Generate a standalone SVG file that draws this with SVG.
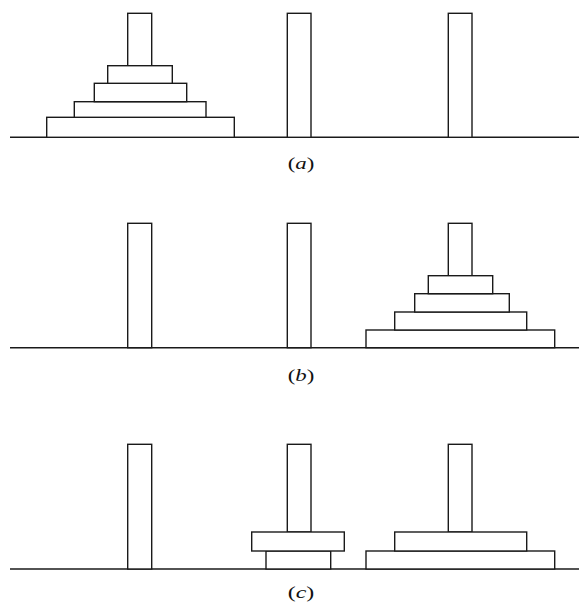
<svg xmlns="http://www.w3.org/2000/svg" width="579" height="602" viewBox="0 0 579 602">
<style>
  rect, line { fill: #fff; stroke: #1a1a1a; stroke-width: 1.4; }
  .lbl { font-family: "Liberation Serif", "Times New Roman", serif; font-size: 16px; fill: #111; }
  .it { font-style: italic; }
</style>
<rect x="0" y="0" width="579" height="602" style="stroke:none;fill:#fff"/>
<g id="panel-a">
  <line x1="10" y1="137.3" x2="579" y2="137.3"/>
  <g id="a-peg1"><rect x="127.7" y="13.3" width="24" height="52.4"/></g>
  <g id="a-peg2"><rect x="287.3" y="13.3" width="23.7" height="124"/></g>
  <g id="a-peg3"><rect x="448.3" y="13.3" width="23.7" height="124"/></g>
  <g id="a-disk4"><rect x="46.7" y="117.3" width="187.6" height="20"/></g>
  <g id="a-disk3"><rect x="74.3" y="101.7" width="131.7" height="15.6"/></g>
  <g id="a-disk2"><rect x="94.3" y="83.3" width="92.4" height="18.4"/></g>
  <g id="a-disk1"><rect x="107.7" y="65.7" width="64.6" height="17.6"/></g>
  <text class="lbl" x="287.7" y="168.5" textLength="26.6" lengthAdjust="spacingAndGlyphs">(<tspan class="it">a</tspan>)</text>
</g>
<g id="panel-b">
  <line x1="10" y1="347.7" x2="579" y2="347.7"/>
  <g id="b-peg1"><rect x="127.7" y="223.3" width="24" height="124.4"/></g>
  <g id="b-peg2"><rect x="287.3" y="223.3" width="23.7" height="124.4"/></g>
  <g id="b-peg3"><rect x="448.3" y="223.3" width="23.7" height="52.4"/></g>
  <g id="b-disk4"><rect x="366" y="330" width="188.7" height="17.7"/></g>
  <g id="b-disk3"><rect x="394.7" y="312" width="132" height="18"/></g>
  <g id="b-disk2"><rect x="414.7" y="293.7" width="94.6" height="18.3"/></g>
  <g id="b-disk1"><rect x="428.3" y="275.7" width="64.4" height="18"/></g>
  <text class="lbl" x="287.7" y="380.5" textLength="26.6" lengthAdjust="spacingAndGlyphs">(<tspan class="it">b</tspan>)</text>
</g>
<g id="panel-c">
  <line x1="10" y1="569" x2="579" y2="569"/>
  <g id="c-peg1"><rect x="127.7" y="444.3" width="24" height="124.7"/></g>
  <g id="c-peg2"><rect x="287.3" y="444.3" width="23.7" height="87.7"/></g>
  <g id="c-peg3"><rect x="448.3" y="444.3" width="23.7" height="87.7"/></g>
  <g id="c-disk-p2-lower"><rect x="266" y="551" width="64.7" height="18"/></g>
  <g id="c-disk-p2-upper"><rect x="251.7" y="532" width="92.6" height="19"/></g>
  <g id="c-disk-p3-lower"><rect x="366" y="551" width="188.7" height="18"/></g>
  <g id="c-disk-p3-upper"><rect x="394.7" y="532" width="132" height="19"/></g>
  <text class="lbl" x="287.7" y="598" textLength="26.6" lengthAdjust="spacingAndGlyphs">(<tspan class="it">c</tspan>)</text>
</g>
</svg>
